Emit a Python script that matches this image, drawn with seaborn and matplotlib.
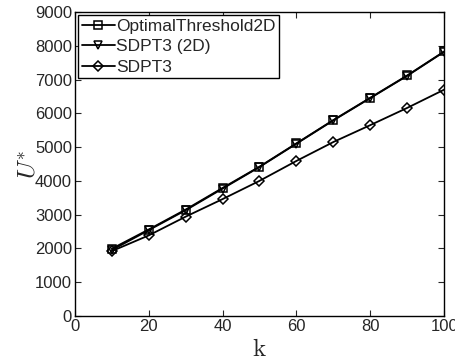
import matplotlib
matplotlib.use("Agg")
import matplotlib.pyplot as plt
import seaborn as sns
import numpy as np

# 데이터
k = [10, 20, 30, 40, 50, 60, 70, 80, 90, 100]
opt2d = [1990, 2560, 3150, 3790, 4420, 5110, 5800, 6460, 7120, 7830]
sdpt3_2d = [1950, 2540, 3130, 3770, 4410, 5100, 5790, 6450, 7110, 7820]
sdpt3 = [1920, 2385, 2940, 3460, 4000, 4590, 5150, 5650, 6160, 6700]

series = [
    ("OptimalThreshold2D", opt2d, "s"),
    ("SDPT3 (2D)", sdpt3_2d, "v"),
    ("SDPT3", sdpt3, "D"),
]

sns.set_style("ticks")
plt.rcParams["font.family"] = ["Liberation Sans", "DejaVu Sans"]
plt.rcParams["mathtext.fontset"] = "cm"

fig = plt.figure(figsize=(4.56, 3.62), dpi=100)
ax = fig.add_axes([0.164, 0.127, 0.810, 0.840])

for name, vals, mk in series:
    sns.lineplot(x=k, y=vals, ax=ax, label=name, color="k", linewidth=1.3,
                 marker=mk, markersize=6 if mk != "D" else 5,
                 markerfacecolor="none", markeredgecolor="k", markeredgewidth=1.1)

ax.set_xlim(0, 100)
ax.set_ylim(0, 9000)
ax.set_xticks(range(0, 101, 20))
ax.set_yticks(range(0, 9001, 1000))
ax.tick_params(direction="in", top=True, right=True, labelsize=12, length=4, width=0.8, pad=2)
for s in ax.spines.values():
    s.set_linewidth(1.0)
    s.set_color("k")

ax.set_xlabel(r"$\mathrm{k}$", fontsize=18, labelpad=2)
ax.set_ylabel(r"$U^{*}$", fontsize=18, labelpad=-4)

leg = ax.legend(loc="upper left", fontsize=12.5, frameon=True, fancybox=False,
                edgecolor="k", framealpha=1, borderpad=0.2, labelspacing=0.3,
                handlelength=1.9, handletextpad=0.1, borderaxespad=0.2)
leg.get_frame().set_linewidth(1.0)

fig.savefig("out.png", dpi=100)
